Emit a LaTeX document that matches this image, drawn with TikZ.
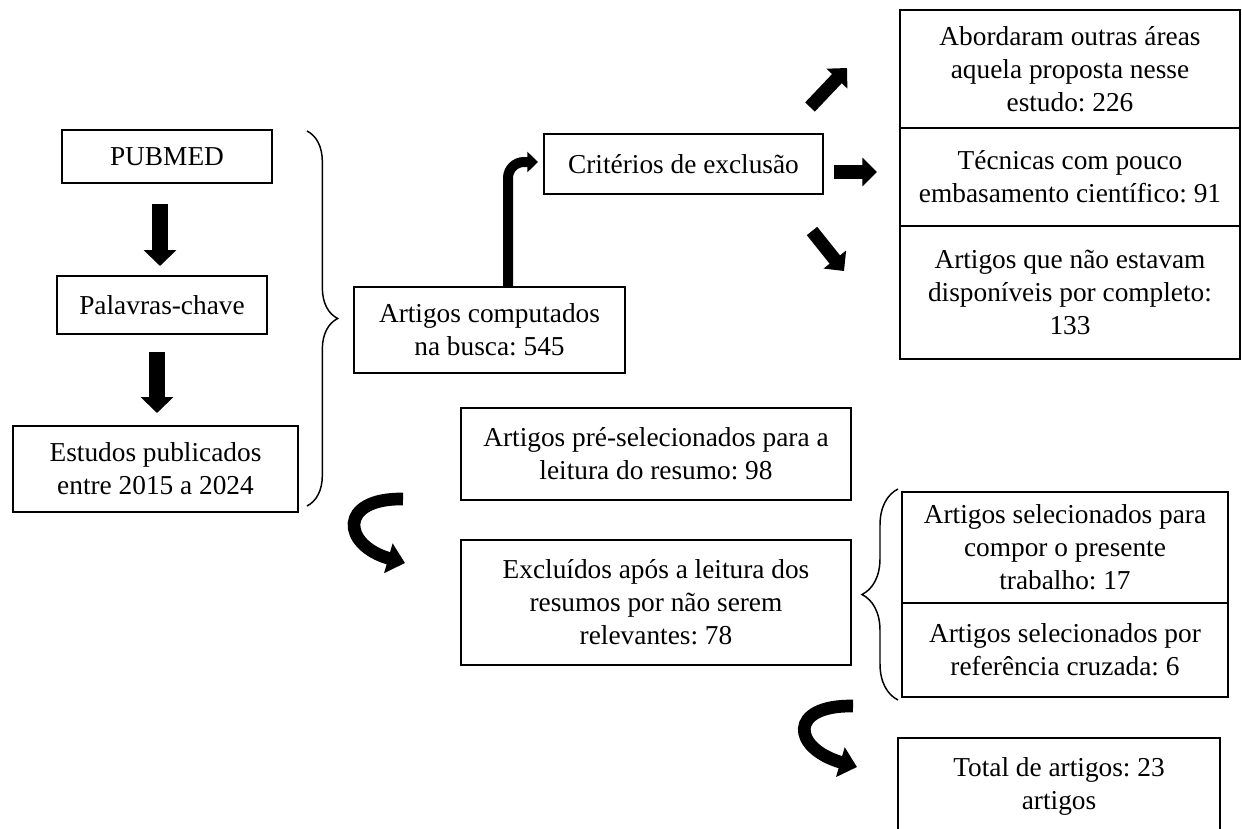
\documentclass[tikz,border=0pt]{standalone}
\usepackage{fontspec}
\setmainfont{Liberation Serif}
\usetikzlibrary{arrows.meta,decorations.pathreplacing}
\frenchspacing
\begin{document}
\begin{tikzpicture}[x=0.75pt,y=-0.75pt,
  box/.style={draw, line width=1.1pt, inner sep=0pt, align=center,
    font=\fontsize{20.5}{24.75}\selectfont},
  downarr/.style={line width=12pt, -{Triangle[width=24pt,length=12pt]}},
  smallarr/.style={line width=10pt, -{Triangle[width=21pt,length=11pt]}},
  bentarr/.style={line width=7.5pt, rounded corners=12pt, -{Triangle[width=15pt,length=8pt]}},
  curvarr/.style={line width=9.5pt, -{Triangle[width=22.5pt,length=13pt]}},
  brcright/.style={decorate, decoration={brace, amplitude=23pt}, line width=1.1pt},
  brcleft/.style={decorate, decoration={brace, amplitude=27pt}, line width=1.1pt}]
\useasboundingbox (0,0) rectangle (1242,828);
\fill[white] (0,0) rectangle (1242,828);
\clip (0,0) rectangle (1242,828);

% left column
\node[box, minimum width=157.5pt, minimum height=39.75pt] (pub) at (167,156.5) {PUBMED};
\node[box, minimum width=157.5pt, minimum height=43.5pt] (pal) at (162,305) {Palavras-chave};
\node[box, minimum width=213.75pt, minimum height=64.5pt] (est) at (155.5,469) {Estudos publicados\\entre 2015 a 2024};

\coordinate (a1s) at (160,204); \coordinate (a1e) at (160,266);
\coordinate (a2s) at (157,352); \coordinate (a2e) at (157,413);
\draw[downarr] (a1s) -- (a1e);
\draw[downarr] (a2s) -- (a2e);

\coordinate (b1s) at (307,131); \coordinate (b1e) at (307,506);
\draw[brcright] (b1s) -- (b1e);

% middle
\node[box, minimum width=203.25pt, minimum height=64.5pt] (comp) at (489.5,330) {Artigos computados\\na busca: 545};
\node[box, minimum width=209.25pt, minimum height=45pt] (crit) at (683.5,164) {Critérios de exclusão};

\coordinate (bas) at (508,287); \coordinate (bae) at (538,162);
\draw[bentarr] (bas) |- (bae);

% three exclusion arrows
\coordinate (e1s) at (810,107); \coordinate (e1e) at (847,68);
\coordinate (e2s) at (834,172); \coordinate (e2e) at (877,172);
\coordinate (e3s) at (812,231); \coordinate (e3e) at (844,271);
\draw[smallarr] (e1s) -- (e1e);
\draw[smallarr] (e2s) -- (e2e);
\draw[smallarr] (e3s) -- (e3e);

% right column
\node[box, line width=1.6pt, minimum width=255pt, minimum height=88.5pt] (ex1) at (1070,69) {Abordaram outras áreas\\aquela proposta nesse\\estudo: 226};
\node[box, minimum width=255pt, minimum height=73.5pt] (ex2) at (1070,177) {Técnicas com pouco\\embasamento científico: 91};
\node[box, minimum width=255pt, minimum height=99.75pt] (ex3) at (1070,292.5) {Artigos que não estavam\\disponíveis por completo:\\133};

% lower middle
\node[box, minimum width=292.5pt, minimum height=69pt] (pre) at (656,454) {Artigos pré-selecionados para a\\leitura do resumo: 98};
\node[box, minimum width=292.5pt, minimum height=93.75pt] (exc) at (656,602.5) {Excluídos após a leitura dos\\resumos por não serem\\relevantes: 78};

\coordinate (c1s) at (403,499); \coordinate (c1e) at (405,563);
\draw[curvarr] (c1s) .. controls (338,498) and (342,545) .. (c1e);

% lower right
\node[box, minimum width=244.5pt, minimum height=83.25pt] (sel1) at (1065,547.5) {Artigos selecionados para\\compor o presente\\trabalho: 17};
\node[box, minimum width=244.5pt, minimum height=70.5pt] (sel2) at (1065,650) {Artigos selecionados por\\referência cruzada: 6};

\coordinate (b2s) at (898,700); \coordinate (b2e) at (898,489);
\draw[brcleft] (b2s) -- (b2e);

\coordinate (c2s) at (853,706); \coordinate (c2e) at (857,767);
\draw[curvarr] (c2s) .. controls (788,705) and (792,748) .. (c2e);

\node[box, minimum width=241.5pt, minimum height=72pt] (tot) at (1059,786) {Total de artigos: 23\\artigos};
\end{tikzpicture}
\end{document}
